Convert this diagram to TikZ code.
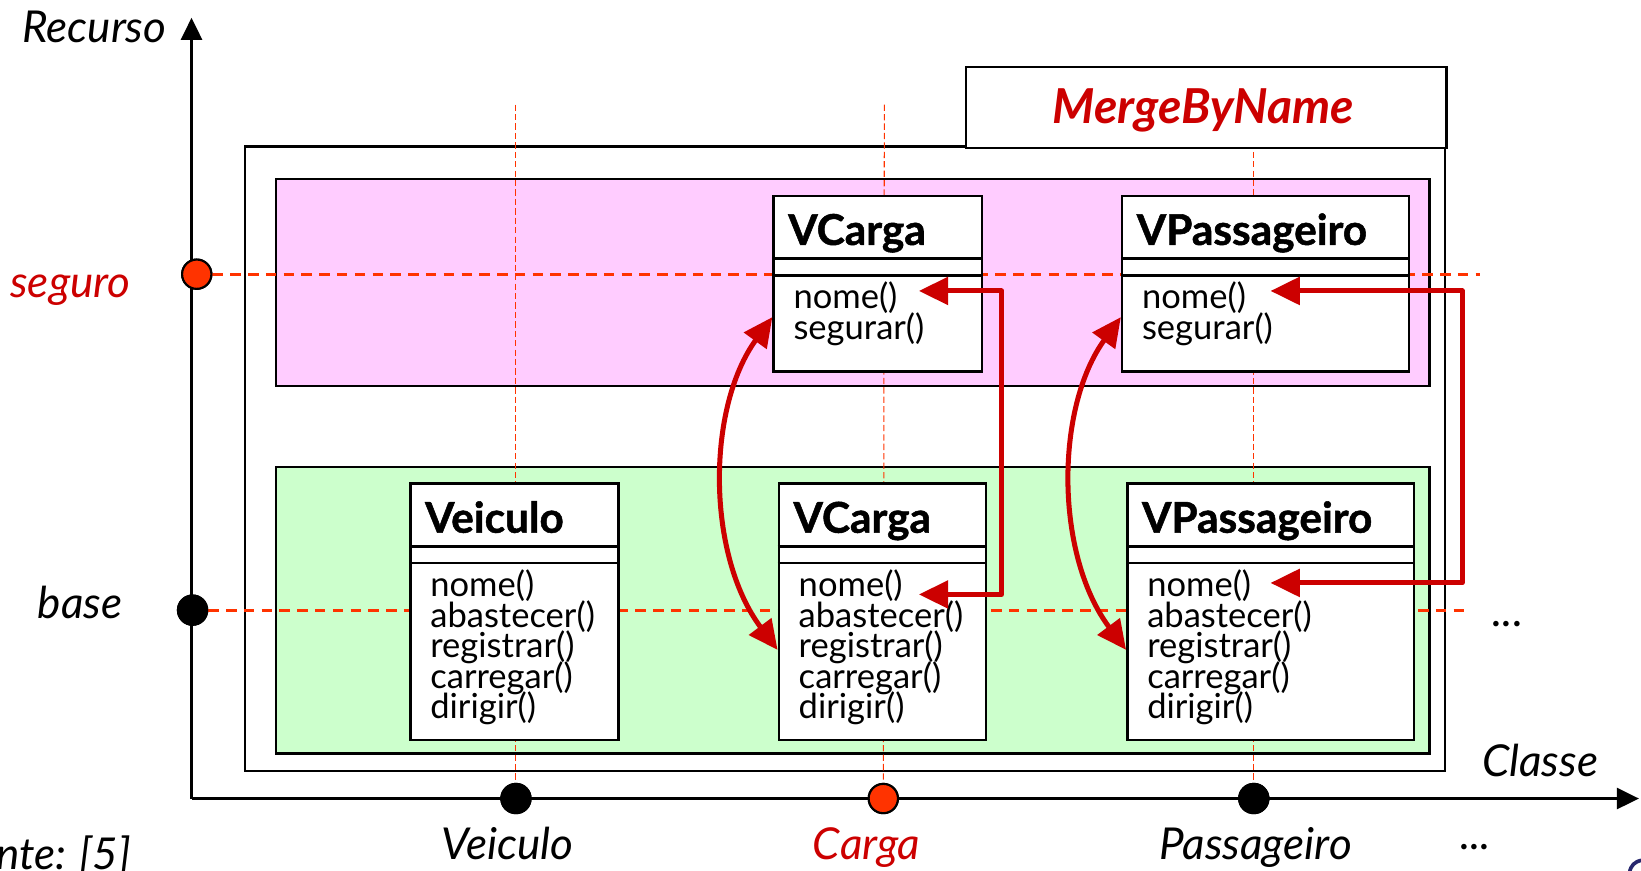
\documentclass[tikz,border=0pt]{standalone}
\usepackage{fontspec}
\setmainfont{Lato}
\newfontfamily\heavyfont{Lato}[BoldFeatures={FakeBold=1.2}]
\usetikzlibrary{arrows.meta,calc}

\definecolor{pinkfill}{RGB}{255,204,255}
\definecolor{greenfill}{RGB}{204,255,204}
\definecolor{guide}{RGB}{255,51,0}
\definecolor{darkred}{RGB}{204,0,0}
\definecolor{navyblue}{RGB}{40,40,110}

% UML class: name, x, y (top left), width, height, title, methods
\newcommand\umlclass[7]{%
  \node[classbox,anchor=north west,minimum width=#4pt,minimum height=#5pt] (#1) at (#2,#3) {};
  \draw[sepline] ($(#1.north west)+(0,61)$) -- ($(#1.north east)+(0,61)$);
  \draw[sepline] ($(#1.north west)+(0,77)$) -- ($(#1.north east)+(0,77)$);
  \node[classtitle] (#1-t) at ($(#1.north west)+(15,48)$) {#6};
  \foreach \m [count=\i] in {#7}
    \node[meth] (#1-m\i) at ($(#1.north west)+(20,{109+(\i-1)*29.2})$) {\m};
}

\begin{document}
\begin{tikzpicture}[x=1pt,y=-1pt,
  frame/.style={draw=black,line width=2.2pt},
  classbox/.style={draw=black,line width=2.4pt,fill=white,inner sep=0pt},
  sepline/.style={draw=black,line width=2.4pt},
  classtitle/.style={font=\heavyfont\fontsize{40.5}{44}\selectfont\bfseries,anchor=base west,inner sep=0pt},
  meth/.style={font=\fontsize{33}{36}\selectfont,anchor=base west,inner sep=0pt,
    text height=22pt,text depth=6pt},
  axlabel/.style={font=\fontsize{42}{46}\selectfont\itshape,inner sep=0pt},
  guideline/.style={draw=guide,line width=2.9pt,dash pattern=on 10pt off 7pt},
  thinguide/.style={draw=guide,line width=1pt,dash pattern=on 6pt off 3pt},
  axis/.style={draw=black,line width=2.6pt,-{Triangle[length=21pt,width=20pt]}},
  link/.style={draw=darkred,line width=4.8pt,line join=round,
    {Triangle[length=28pt,width=26pt]}-{Triangle[length=28pt,width=26pt]}},
  dot/.style={circle,draw=black,line width=2pt,minimum size=28pt,inner sep=0pt},
]
\useasboundingbox (0,0) rectangle (1568,832);

% package frame and the two resource layers
\draw[frame] (234,140) rectangle (1381,737);
\draw[frame,fill=pinkfill] (264,171) rectangle (1366,369);
\draw[frame,fill=greenfill] (264,446) rectangle (1366,720);

% axis markers
\coordinate (origin) at (183,763);
\node[dot,fill=guide] (dseguro) at (188,262) {};
\node[dot,fill=black] (dbase) at (184,583) {};
\node[dot,fill=black] (dveiculo) at (493,763) {};
\node[dot,fill=guide] (dcarga) at (844,763) {};
\node[dot,fill=black] (dpass) at (1198,763) {};

% guide lines
\coordinate (gveiculo) at (493,100);
\coordinate (gcarga) at (845,100);
\coordinate (gpass) at (1198,100);
\coordinate (gseguro) at (1414,262);
\coordinate (gbase) at (1404,583);
\draw[thinguide] (gveiculo) -- (dveiculo.north);
\draw[thinguide] (gcarga) -- (dcarga.north);
\draw[thinguide] (gpass) -- (dpass.north);
\draw[guideline] (dseguro.east) -- (gseguro);
\draw[guideline] (dbase.east) -- (gbase);

% package tab
\node[draw=black,line width=2.2pt,fill=white,anchor=north west,minimum width=459pt,minimum height=77pt,inner sep=0pt] (tab) at (922,63) {};
\node[font=\heavyfont\fontsize{46}{50}\selectfont\bfseries\itshape,text=darkred,anchor=base,inner sep=0pt] (tabname) at (1150,118) {MergeByName};

% classes
\umlclass{vct}{738}{186}{199}{168}{VCarga}{nome(),segurar()}
\umlclass{vpt}{1071}{186}{274}{168}{VPassageiro}{nome(),segurar()}
\umlclass{veb}{391}{461}{199}{245}{Veiculo}{nome(),abastecer(),registrar(),carregar(),dirigir()}
\umlclass{vcb}{743}{461}{198}{245}{VCarga}{nome(),abastecer(),registrar(),carregar(),dirigir()}
\umlclass{vpb}{1076}{461}{274}{245}{VPassageiro}{nome(),abastecer(),registrar(),carregar(),dirigir()}

% axes
\draw[axis] (origin) -- (183,17);
\draw[axis] (origin) -- (1566,763);
\node[dot,fill=guide] at (dseguro) {};
\node[dot,fill=black] at (dbase) {};
\node[dot,fill=black] at (dveiculo) {};
\node[dot,fill=guide] at (dcarga) {};
\node[dot,fill=black] at (dpass) {};

% merge links
\coordinate (vct-in) at (878,278);
\coordinate (vcb-in) at (878,568);
\coordinate (vc-elbow) at (957,420);
\coordinate (vpt-in) at (1214,278);
\coordinate (vpb-in) at (1214,557);
\coordinate (vp-elbow) at (1397,420);
\draw[link] (vct-in) -| (vc-elbow) |- (vcb-in);
\draw[link] (vpt-in) -| (vp-elbow) |- (vpb-in);

\coordinate (vct-side) at (738,303);
\coordinate (vcb-side) at (743,621);
\coordinate (vpt-side) at (1071,303);
\coordinate (vpb-side) at (1076,621);
\draw[link] (vcb-side) .. controls (675,530) and (675,390) .. (vct-side);
\draw[link] (vpb-side) .. controls (1008,530) and (1008,390) .. (vpt-side);

% labels
\node[axlabel,anchor=base east] (lrecurso) at (159,41) {Recurso};
\node[axlabel,anchor=base east,text=darkred] (lseguro) at (125,284) {seguro};
\node[axlabel,anchor=base east] (lbase) at (117,591) {base};
\node[axlabel,anchor=base west] (lclasse) at (1416,742) {Classe};
\node[axlabel,anchor=base] (lveiculo) at (485,821) {Veiculo};
\node[axlabel,anchor=base,text=darkred] (lcarga) at (828,821) {Carga};
\node[axlabel,anchor=base] (lpass) at (1200,821) {Passageiro};
\node[axlabel,anchor=base] (ldotsx) at (1410,812) {...};
\node[axlabel,anchor=base] (ldotsy) at (1441,599) {...};
\node[axlabel,anchor=base west] (lfonte) at (-4,831) {nte: [5]};

% corner fragment
\draw[navyblue,line width=3.5pt] (1557,834) .. controls (1558,827) and (1562,823) .. (1569,822);
\end{tikzpicture}
\end{document}
